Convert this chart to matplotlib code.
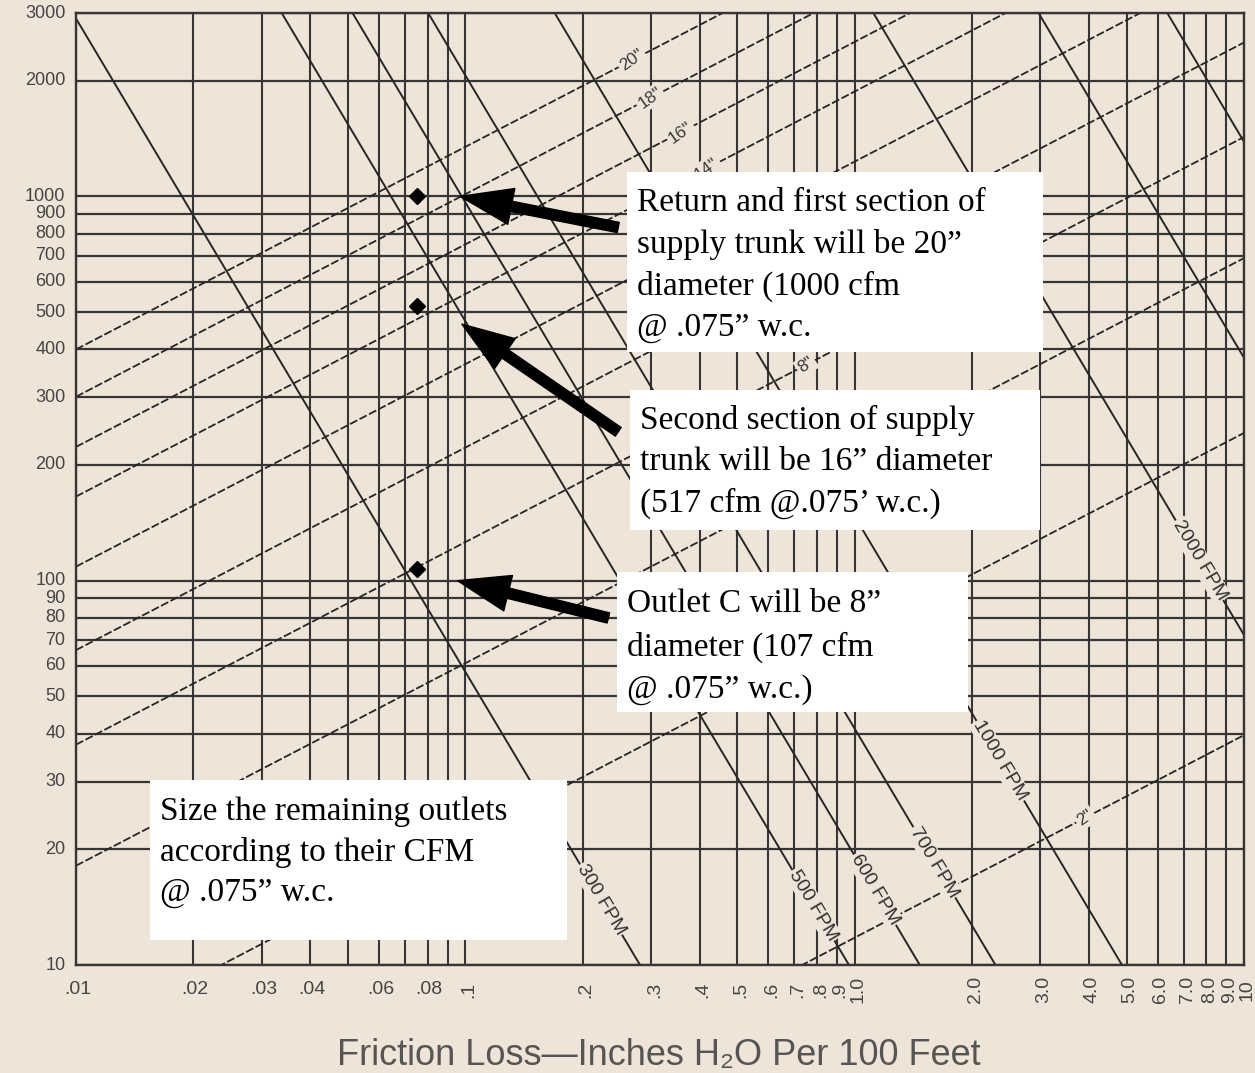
import numpy as np
import matplotlib.pyplot as plt
from matplotlib.patches import Rectangle

W, H = 1255, 1073
BG = '#eee4d8'
INK = '#363636'

# chart grid (cfm on y, friction on x)
cfm_grid = [10, 20, 30, 40, 50, 60, 70, 80, 90, 100, 200, 300, 400, 500, 600, 700, 800, 900, 1000, 2000, 3000]
cfm_labels = ['10', '20', '30', '40', '50', '60', '70', '80', '90', '100', '200', '300', '400',
              '500', '600', '700', '800', '900', '1000', '2000', '3000']
friction_grid = [0.01, 0.02, 0.03, 0.04, 0.05, 0.06, 0.07, 0.08, 0.09,
                 0.1, 0.2, 0.3, 0.4, 0.5, 0.6, 0.7, 0.8, 0.9,
                 1, 2, 3, 4, 5, 6, 7, 8, 9, 10]
friction_labels = ['.01', '.02', '.03', '.04', '', '.06', '', '.08', '',
                   '.1', '.2', '.3', '.4', '.5', '.6', '.7', '.8', '.9',
                   '1.0', '2.0', '3.0', '4.0', '5.0', '6.0', '7.0', '8.0', '9.0', '10']

# round duct lines: cfm carried at 0.1" per 100 ft
duct_diam = [20, 18, 16, 14, 12, 10, 8, 6, 4, 2]
duct_cfm_at_01 = [1345, 1013, 750, 557, 366, 222, 126, 61, 21.4, 3.5]
duct_slope = 0.527
duct_label_diam = [20, 18, 16, 14, 8, 2]
duct_label_friction = [0.268, 0.298, 0.357, 0.417, 0.75, 3.91]

# velocity lines: friction at 10 cfm
velocity_fpm = [300, 500, 600, 700, 1000, 2000, 3000, 4000]
velocity_friction_at_10 = [0.281, 0.967, 1.47, 2.30, 4.86, 32.0, 85.0, 182.0]
velocity_slope = 1.70
velocity_label_fpm = [300, 500, 600, 700, 1000, 2000]
velocity_label_cfm = [14.8, 14.3, 15.7, 18.5, 34.0, 113]

# design points at .075" w.c.
point_friction = [0.075, 0.075, 0.075]
point_cfm = [1000, 517, 107]

notes = [
    ["Return and first section of", "supply trunk will be 20\u201d", "diameter (1000 cfm", "@ .075\u201d w.c."],
    ["Second section of supply", "trunk will be 16\u201d diameter", "(517 cfm @.075\u2019 w.c.)"],
    ["Outlet C will be 8\u201d", "diameter (107 cfm", "@ .075\u201d w.c.)"],
    ["Size the remaining outlets", "according to their CFM", "@ .075\u201d w.c."],
]
# note boxes in pixels: left, top, right, bottom, first line y, line step
note_boxes = [(627, 172, 1043, 352, 203, 41.7),
              (630, 390, 1040, 530, 420, 41.5),
              (617, 572, 968, 712, 604, 43),
              (150, 780, 567, 940, 812, 40.5)]
# arrows: head / tail as (friction, cfm)
arrow_heads = [(0.097, 1000), (0.098, 465), (0.0955, 100)]
arrow_tails = [(0.247, 830), (0.247, 244), (0.233, 80)]


def fx(px):
    return px / W


def fy(py):
    return 1 - py / H


fig = plt.figure(figsize=(W / 100, H / 100), dpi=100, facecolor=BG)
ax = fig.add_axes([fx(76), fy(965), (1244 - 76) / W, (965 - 13) / H])
ax.set_facecolor(BG)
ax.set_xscale('log')
ax.set_yscale('log')
ax.set_xlim(0.01, 10)
ax.set_ylim(10, 3000)
ax.set_xticks([])
ax.set_yticks([])
ax.minorticks_off()
ax.tick_params(which='both', length=0, labelbottom=False, labelleft=False)
for s in ax.spines.values():
    s.set_color(INK)
    s.set_linewidth(1.7)

for q in cfm_grid:
    ax.axhline(q, color=INK, lw=1.6, zorder=1)
for f in friction_grid:
    ax.axvline(f, color=INK, lw=1.5, zorder=1)

f_ends = np.array([0.01, 10.0])
for d, q01 in zip(duct_diam, duct_cfm_at_01):
    ax.plot(f_ends, q01 * (f_ends / 0.1) ** duct_slope, color='#262626', lw=1.3,
            ls=(0, (4.5, 1.4)), zorder=2)

q_ends = np.array([10.0, 3000.0])
for v, f10 in zip(velocity_fpm, velocity_friction_at_10):
    ax.plot(f10 * (q_ends / 10) ** (-1 / velocity_slope), q_ends, color='#262626', lw=1.4, zorder=2)

sans = ['Liberation Sans', 'DejaVu Sans']
ang_duct = np.degrees(np.arctan(duct_slope * 952 / 2.477 / 389.3))
ang_vel = -np.degrees(np.arctan(velocity_slope * 952 / 2.477 / 389.3))

for d, f in zip(duct_label_diam, duct_label_friction):
    q = duct_cfm_at_01[duct_diam.index(d)] * (f / 0.1) ** duct_slope
    ax.text(f, q, f'{d}"', rotation=ang_duct + 8, rotation_mode='anchor', ha='center', va='center',
            fontsize=12.5, family=sans, color='#3a3a3a', zorder=3,
            bbox=dict(facecolor=BG, edgecolor='none', pad=1.5))

for v, q in zip(velocity_label_fpm, velocity_label_cfm):
    f = velocity_friction_at_10[velocity_fpm.index(v)] * (q / 10) ** (-1 / velocity_slope)
    ax.text(f, q, f'{v} FPM', rotation=ang_vel, rotation_mode='anchor', ha='center', va='center',
            fontsize=14, family=sans, color='#2e2e2e', zorder=3,
            bbox=dict(facecolor=BG, edgecolor='none', pad=1.0))

# tick labels
ytr = ax.get_yaxis_transform()
for q, lab in zip(cfm_grid, cfm_labels):
    ax.text(-0.009, q, lab, transform=ytr, ha='right', va='center', fontsize=13,
            family=sans, color='#454545')
xtr = ax.get_xaxis_transform()
for f, lab in zip(friction_grid, friction_labels):
    if not lab:
        continue
    if f < 0.1:
        ax.text(f * 1.01, -0.026, lab, transform=xtr, ha='center', va='center', fontsize=14,
                family=sans, color='#454545')
    else:
        ax.text(f * 1.02, -0.026, lab, transform=xtr, ha='center', va='center', fontsize=14,
                rotation=90, family=sans, color='#454545')

fig.text(fx(659), fy(1055), 'Friction Loss\u2014Inches H\u2082O Per 100 Feet', ha='center', va='center',
         fontsize=26, family=sans, color='#555555')

# design points and arrows
ax.plot(point_friction, point_cfm, 'D', color='black', ms=8, zorder=6)
for head, tail in zip(arrow_heads, arrow_tails):
    ax.annotate('', xy=head, xytext=tail,
                arrowprops=dict(arrowstyle='simple,head_length=1.5,head_width=1.05,tail_width=0.3',
                                mutation_scale=25, color='black', shrinkA=0, shrinkB=0),
                zorder=7)

# white note boxes
for (l, t, r, b, y0, step), lines in zip(note_boxes, notes):
    fig.patches.append(Rectangle((fx(l), fy(b)), (r - l) / W, (b - t) / H, transform=fig.transFigure,
                                 facecolor='white', edgecolor='none', zorder=5))
    for i, line in enumerate(lines):
        fig.text(fx(l + 10), fy(y0 + i * step), line, ha='left', va='center', fontsize=24,
                 family=['Liberation Serif', 'DejaVu Serif'], color='black', zorder=6)

fig.savefig('out.png', dpi=100, facecolor=BG)
